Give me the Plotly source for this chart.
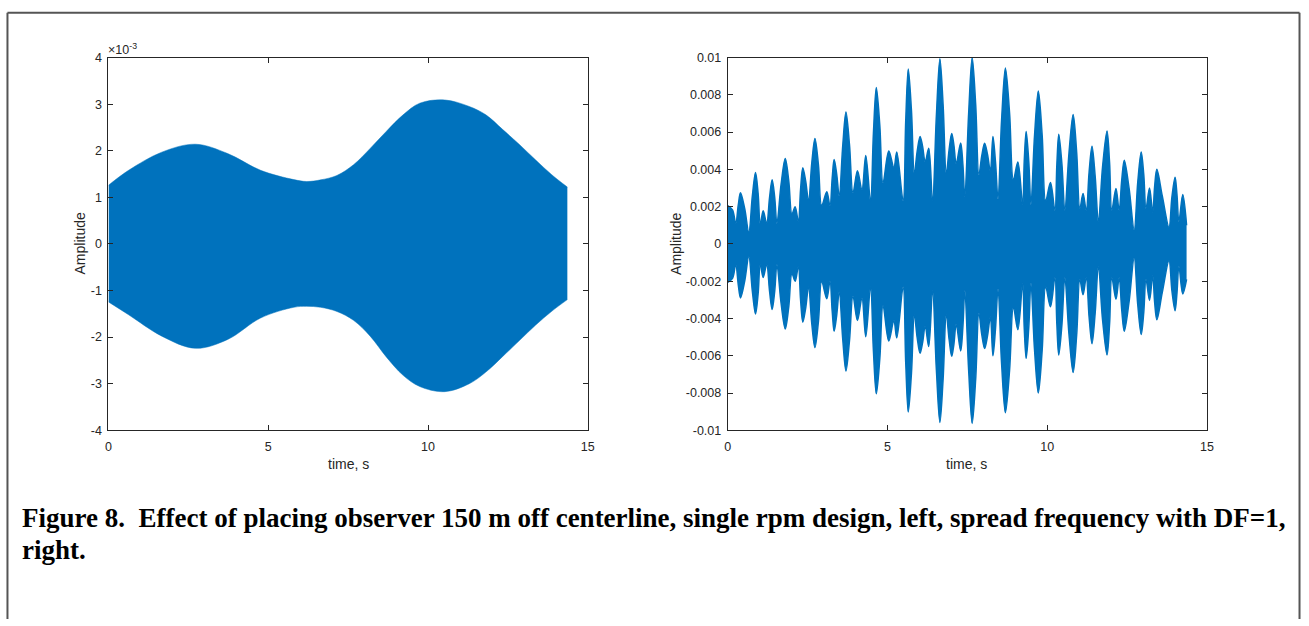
import plotly.graph_objects as go

# ---- left panel: envelope of the single-rpm signal (amplitude x 1e-3) ----
t_left = [0.0, 0.63, 1.67, 2.72, 3.73, 4.76, 5.80, 6.20, 6.64, 7.15, 7.67, 8.19, 8.70, 9.22, 9.74,
          10.52, 11.29, 11.81, 12.33, 12.85, 13.37, 13.88, 14.36]
upper_left = [1.26, 1.58, 1.97, 2.14, 1.94, 1.58, 1.38, 1.34, 1.375, 1.47, 1.70, 2.05, 2.42, 2.77, 3.02,
              3.09, 2.95, 2.77, 2.46, 2.14, 1.80, 1.48, 1.22]
lower_left = [-1.245, -1.52, -1.98, -2.24, -2.05, -1.59, -1.36, -1.34, -1.36, -1.45, -1.64, -1.98, -2.43,
              -2.82, -3.06, -3.17, -3.00, -2.75, -2.42, -2.08, -1.74, -1.44, -1.195]

# ---- right panel: envelope of the spread-frequency signal (amplitude x 1e-3) ----
t_right = [0.0, 0.15, 0.25, 0.33, 0.40, 0.53, 0.66, 0.77, 0.87, 0.95, 1.02, 1.11, 1.22, 1.31, 1.39,
           1.47, 1.54, 1.67, 1.80, 1.91, 2.01, 2.11, 2.21, 2.28, 2.35, 2.44, 2.53, 2.63, 2.73, 2.84,
           2.94, 3.10, 3.20, 3.27, 3.33, 3.41, 3.49, 3.60, 3.70, 3.81, 3.92, 4.06, 4.20, 4.32, 4.47,
           4.56, 4.65, 4.76, 4.86, 5.04, 5.20, 5.29, 5.49, 5.57, 5.65, 5.75, 5.84, 5.93, 6.02, 6.10,
           6.18, 6.29, 6.41, 6.53, 6.64, 6.74, 6.84, 6.93, 7.01, 7.08, 7.15, 7.29, 7.36, 7.42, 7.54,
           7.65, 7.76, 7.86, 7.95, 8.04, 8.13, 8.22, 8.30, 8.38, 8.46, 8.57, 8.69, 8.82, 8.94, 9.08,
           9.23, 9.28, 9.34, 9.42, 9.49, 9.60, 9.72, 9.84, 9.95, 10.10, 10.24, 10.30, 10.36, 10.46, 10.55,
           10.68, 10.81, 10.92, 11.02, 11.12, 11.22, 11.31, 11.40, 11.50, 11.60, 11.73, 11.87, 11.95, 12.02,
           12.15, 12.25, 12.33, 12.41, 12.56, 12.72, 12.83, 12.94, 13.02, 13.09, 13.20, 13.30, 13.36, 13.43,
           13.60, 13.81, 13.90, 14.00, 14.06, 14.12, 14.24, 14.36]
upper_right = [2.05, 1.82, 1.1, 2.08, 2.74, 1.9, 0.64, 2.55, 3.83, 2.73, 1.08, 1.78, 1.1, 2.5, 3.44,
               2.5, 1.1, 3.19, 4.58, 3.39, 1.6, 2.0, 1.2, 2.93, 4.09, 3.37, 2.3, 4.32, 5.66, 4.22,
               2.05, 2.8, 2.05, 3.54, 4.53, 3.75, 2.57, 5.28, 7.08, 5.34, 2.74, 3.93, 2.9, 4.75, 2.3,
               5.95, 8.39, 6.34, 3.27, 4.98, 4.1, 4.93, 2.3, 6.55, 9.39, 7.15, 3.8, 4.98, 5.77, 5.22,
               4.4, 5.14, 2.3, 6.88, 9.94, 7.48, 3.8, 5.08, 5.93, 5.28, 4.3, 5.42, 4.25, 2.5, 7.0,
               10.0, 7.48, 3.7, 4.72, 5.4, 4.8, 3.9, 5.77, 4.4, 2.4, 6.62, 9.44, 7.04, 3.44, 4.4,
               2.1, 4.46, 6.03, 4.46, 2.1, 5.76, 8.2, 5.84, 2.3, 3.3, 1.8, 4.25, 5.89, 4.25, 1.8,
               4.88, 6.94, 4.92, 1.9, 2.7, 1.8, 3.86, 5.24, 3.62, 1.2, 4.12, 6.06, 4.36, 1.8,
               2.97, 1.8, 3.41, 4.49, 3.0, 0.75, 3.26, 4.93, 3.72, 1.9, 3.0, 1.7, 3.08, 4.0,
               2.57, 0.9, 2.5, 3.58, 2.63, 1.2, 2.65, 1.0]
lower_right = [-2.06, -1.85, -1.1, -2.18, -2.9, -2.01, -0.67, -2.52, -3.76, -2.7, -1.1, -1.8, -1.1, -2.55, -3.52,
               -2.55, -1.1, -3.18, -4.56, -3.38, -1.6, -2.0, -1.2, -3.0, -4.2, -3.44, -2.3, -4.26, -5.56, -4.14,
               -2.0, -2.94, -2.0, -3.61, -4.69, -3.84, -2.57, -5.12, -6.82, -5.21, -2.8, -4.11, -2.9, -4.98, -2.3,
               -5.74, -8.04, -6.14, -3.3, -5.21, -4.1, -5.04, -2.3, -6.33, -9.02, -6.93, -3.8, -5.04, -5.87, -5.28,
               -4.4, -5.5, -2.5, -6.75, -9.58, -7.27, -3.8, -5.14, -6.03, -5.36, -4.3, -5.74, -4.44, -2.5, -6.78,
               -9.63, -7.26, -3.7, -4.85, -5.61, -4.93, -3.9, -6.0, -4.56, -2.4, -6.4, -9.06, -6.8, -3.4, -4.6,
               -2.1, -4.52, -6.14, -4.52, -2.1, -5.64, -8.0, -5.72, -2.3, -3.37, -1.8, -4.3, -5.96, -4.3, -1.8,
               -4.86, -6.9, -4.9, -1.9, -2.73, -1.8, -3.93, -5.35, -3.69, -1.2, -4.06, -5.96, -4.3, -1.8,
               -2.97, -1.8, -3.53, -4.69, -3.11, -0.75, -3.22, -4.86, -3.68, -1.9, -3.03, -1.7, -3.12, -4.07,
               -2.6, -0.9, -2.5, -3.58, -2.63, -1.2, -2.68, -1.9]
assert len(t_right) == len(upper_right) == len(lower_right)

# ---- axis ticks ----
x_ticks = [0, 5, 10, 15]
y_ticks_left = [4, 3, 2, 1, 0, -1, -2, -3, -4]
y_labels_left = ["4", "3", "2", "1", "0", "-1", "-2", "-3", "-4"]
y_ticks_right = [0.01, 0.008, 0.006, 0.004, 0.002, 0, -0.002, -0.004, -0.006, -0.008, -0.01]
y_labels_right = ["0.01", "0.008", "0.006", "0.004", "0.002", "0", "-0.002", "-0.004",
                  "-0.006", "-0.008", "-0.01"]

caption_1 = "Figure 8.  Effect of placing observer 150 m off centerline, single rpm design, left, spread frequency with DF=1,"
caption_2 = "right."

W, H = 1309, 626
BLUE = "#0072BD"
INK = "#262626"


def px_x(p):
    return p / W


def px_y(p):
    return 1 - p / H


fig = go.Figure()

scale = 1e-3
# left panel
fig.add_trace(go.Scatter(x=t_left, y=[v * scale for v in lower_left], mode="lines",
                         line=dict(color=BLUE, width=0.5, shape="spline", smoothing=1.0),
                         xaxis="x", yaxis="y", hoverinfo="skip", showlegend=False))
fig.add_trace(go.Scatter(x=t_left, y=[v * scale for v in upper_left], mode="lines",
                         line=dict(color=BLUE, width=0.5, shape="spline", smoothing=1.0),
                         fill="tonexty", fillcolor=BLUE,
                         xaxis="x", yaxis="y", hoverinfo="skip", showlegend=False))
# right panel
fig.add_trace(go.Scatter(x=t_right, y=[v * scale for v in lower_right], mode="lines",
                         line=dict(color=BLUE, width=1.5, shape="spline", smoothing=1.0),
                         xaxis="x2", yaxis="y2", hoverinfo="skip", showlegend=False))
fig.add_trace(go.Scatter(x=t_right, y=[v * scale for v in upper_right], mode="lines",
                         line=dict(color=BLUE, width=1.5, shape="spline", smoothing=1.0),
                         fill="tonexty", fillcolor=BLUE,
                         xaxis="x2", yaxis="y2", hoverinfo="skip", showlegend=False))

tick_font = dict(family="Liberation Sans, Arial, sans-serif", size=12.5, color=INK)
common_axis = dict(showline=True, linecolor=INK, linewidth=1, mirror="ticks",
                   ticks="inside", ticklen=5, tickcolor=INK, tickwidth=1,
                   showgrid=False, zeroline=False, tickfont=tick_font)

y_dom = [px_y(433), px_y(51.7)]
fig.update_layout(
    width=W, height=H,
    margin=dict(l=0, r=0, t=0, b=0),
    paper_bgcolor="white", plot_bgcolor="white",
    xaxis=dict(domain=[px_x(106.3), px_x(589.3)], range=[0, 15], tickvals=x_ticks,
               anchor="y", ticklabelstandoff=5, **common_axis),
    yaxis=dict(domain=y_dom, range=[-4e-3, 4e-3], tickvals=[v * scale for v in y_ticks_left],
               ticktext=y_labels_left, anchor="x", ticklabelstandoff=3, **common_axis),
    xaxis2=dict(domain=[px_x(730.3), px_x(1213.3)], range=[0, 15], tickvals=x_ticks,
                anchor="y2", ticklabelstandoff=5, **common_axis),
    yaxis2=dict(domain=y_dom, range=[-0.01, 0.01], tickvals=y_ticks_right,
                ticktext=y_labels_right, anchor="x2", ticklabelstandoff=3, **common_axis),
)

label_font = dict(family="Liberation Sans, Arial, sans-serif", size=14, color=INK)
caption_font = dict(family="Liberation Serif, Times New Roman, serif", size=27, color="black")
annotations = [
    dict(text="time, s", x=px_x(348), y=px_y(467), xref="paper", yref="paper",
         showarrow=False, font=label_font, xanchor="center", yanchor="middle"),
    dict(text="time, s", x=px_x(971), y=px_y(467), xref="paper", yref="paper",
         showarrow=False, font=label_font, xanchor="center", yanchor="middle"),
    dict(text="Amplitude", x=px_x(77.5), y=px_y(242), xref="paper", yref="paper",
         showarrow=False, font=label_font, textangle=-90, xanchor="center", yanchor="middle"),
    dict(text="Amplitude", x=px_x(677.5), y=px_y(242), xref="paper", yref="paper",
         showarrow=False, font=label_font, textangle=-90, xanchor="center", yanchor="middle"),
    dict(text="\u00d710<sup>-3</sup>", x=px_x(104), y=px_y(43), xref="paper", yref="paper",
         showarrow=False, font=dict(family="Liberation Sans, Arial, sans-serif", size=12.5, color=INK),
         xanchor="left", yanchor="middle"),
    dict(text="<b>" + caption_1 + "</b>", x=px_x(17), y=px_y(523), xref="paper", yref="paper",
         showarrow=False, font=caption_font, xanchor="left", yanchor="middle"),
    dict(text="<b>" + caption_2 + "</b>", x=px_x(17), y=px_y(555), xref="paper", yref="paper",
         showarrow=False, font=caption_font, xanchor="left", yanchor="middle"),
]
fig.update_layout(annotations=annotations)

# page frame (open at the bottom)
frame = dict(color="#555555", width=2)
fig.update_layout(shapes=[
    dict(type="line", xref="paper", yref="paper", x0=px_x(4.5), x1=px_x(4.5), y0=0, y1=px_y(6), line=frame),
    dict(type="line", xref="paper", yref="paper", x0=px_x(4.5), x1=px_x(1306.5), y0=px_y(6), y1=px_y(6), line=frame),
    dict(type="line", xref="paper", yref="paper", x0=px_x(1306.5), x1=px_x(1306.5), y0=0, y1=px_y(6), line=frame),
])

fig.write_html("out.html")
